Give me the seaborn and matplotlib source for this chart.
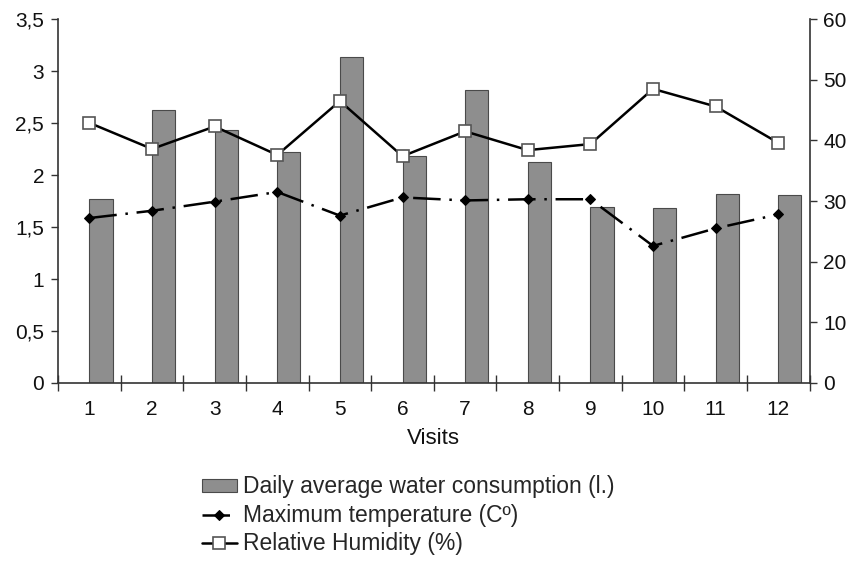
import matplotlib
matplotlib.use("Agg")
import matplotlib.pyplot as plt
import seaborn as sns
import pandas as pd
from matplotlib.ticker import FuncFormatter, FixedLocator

visits = [1, 2, 3, 4, 5, 6, 7, 8, 9, 10, 11, 12]
water = [1.77, 2.63, 2.43, 2.22, 3.14, 2.18, 2.82, 2.13, 1.69, 1.68, 1.82, 1.81]
temperature = [27.2, 28.4, 29.9, 31.5, 27.6, 30.6, 30.1, 30.3, 30.3, 22.6, 25.5, 27.8]
humidity = [42.9, 38.6, 42.3, 37.6, 46.5, 37.4, 41.5, 38.4, 39.4, 48.5, 45.6, 39.6]

df = pd.DataFrame({"Visit": visits, "Water": water,
                   "Temp": temperature, "Hum": humidity})

sns.set_theme(style="white")
plt.rcParams["font.family"] = ["Liberation Sans", "DejaVu Sans"]

fig = plt.figure(figsize=(8.54, 5.64), dpi=100)
ax = fig.add_axes([0.068, 0.321, 0.880, 0.645])

bar_w = 0.37
sns.barplot(data=df, x="Visit", y="Water", native_scale=True, width=bar_w,
            color="#8e8e8e", edgecolor="#4a4a4a", linewidth=0.8, saturation=1,
            ax=ax, label="Daily average water consumption (l.)", zorder=1)
for p in ax.patches:
    p.set_x(p.get_x() + bar_w / 2)

ax2 = ax.twinx()
sns.lineplot(data=df, x="Visit", y="Temp", ax=ax2, color="black", lw=1.8,
             marker="D", markersize=5, markeredgecolor="black",
             label="Maximum temperature (C\u00ba)")
ax2.lines[-1].set_dashes([11, 3.5, 1, 3.5])
sns.lineplot(data=df, x="Visit", y="Hum", ax=ax2, color="black", lw=1.8,
             marker="s", markersize=9, markerfacecolor="white",
             markeredgecolor="#555555", markeredgewidth=1.2,
             label="Relative Humidity (%)")

ax.set_xlim(0.5, 12.5)
ax.set_ylim(0, 3.5)
ax2.set_ylim(0, 60)
ax.set_yticks([0, 0.5, 1, 1.5, 2, 2.5, 3, 3.5])
ax2.set_yticks([0, 10, 20, 30, 40, 50, 60])
ax.yaxis.set_major_formatter(FuncFormatter(
    lambda v, _: (f"{v:g}").replace(".", ",")))

ax.xaxis.set_major_locator(FixedLocator([v - 0.5 for v in visits] + [12.5]))
ax.xaxis.set_major_formatter(FuncFormatter(lambda v, _: ""))
ax.set_xticks(visits, [str(v) for v in visits], minor=True)
ax.tick_params(axis="x", which="major", direction="inout", length=11,
               width=1, color="#333333", bottom=True)
ax.tick_params(axis="x", which="minor", length=0, labelsize=15, pad=12,
               labelcolor="#111111", bottom=True)
ax.tick_params(axis="y", direction="out", length=5, width=1, color="#333333",
               labelsize=15, pad=5, labelcolor="#111111", left=True)
ax2.tick_params(axis="y", direction="out", length=5, width=1, color="#333333",
                labelsize=15, pad=5, labelcolor="#111111", right=True)

for a in (ax, ax2):
    a.spines["top"].set_visible(False)
    for s in ("left", "right", "bottom"):
        a.spines[s].set_color("#333333")
        a.spines[s].set_linewidth(1.2)
ax.spines["right"].set_visible(False)
ax2.spines["left"].set_visible(False)
ax2.spines["bottom"].set_visible(False)

ax.set_xlabel("Visits", fontsize=16, labelpad=7, color="#111111")
ax.set_ylabel("")
ax2.set_ylabel("")
ax2.set_xlabel("")

h1, l1 = ax.get_legend_handles_labels()
h2, l2 = ax2.get_legend_handles_labels()
if ax2.get_legend():
    ax2.get_legend().remove()
if ax.get_legend():
    ax.get_legend().remove()
fig.legend(h1 + h2, l1 + l2, loc="upper left", bbox_to_anchor=(0.236, 0.157),
           frameon=False, fontsize=16.5, handlelength=1.55, handletextpad=0.27,
           labelspacing=0.24, borderaxespad=0, borderpad=0, handleheight=0.5)

fig.savefig("out.png", dpi=100)
